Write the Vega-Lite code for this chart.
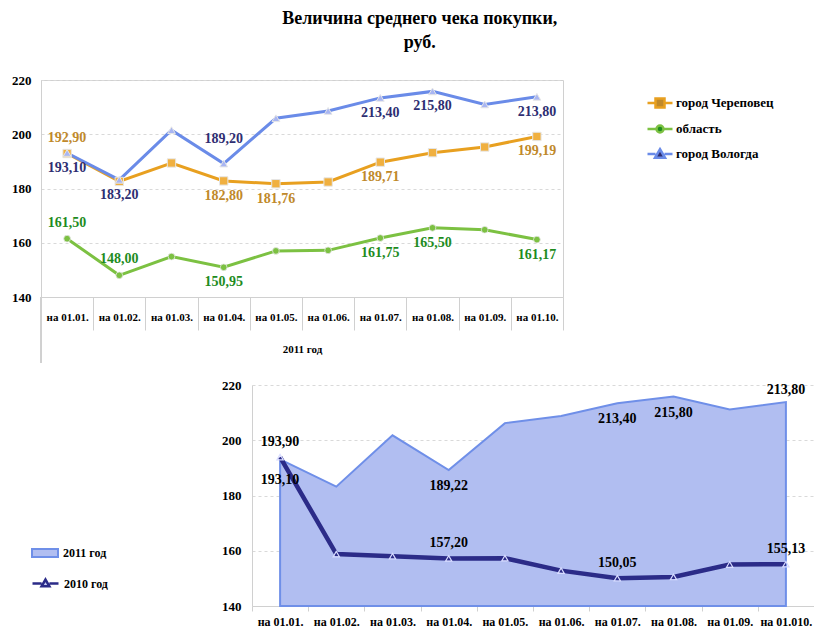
{
  "$schema": "https://vega.github.io/schema/vega-lite/v6.json",
  "background": "white",
  "padding": {"left": 11, "top": 9, "right": 0, "bottom": 0},
  "title": {
    "text": ["Величина среднего чека покупки,", "руб."],
    "font": "Liberation Serif",
    "fontSize": 18,
    "fontWeight": "bold",
    "lineHeight": 24,
    "color": "#000",
    "anchor": "middle",
    "offset": 22,
    "dx": 7
  },
  "datasets": {
    "top": [
      {"m": "на 01.01.", "s": "город Череповец", "v": 192.90},
      {"m": "на 01.02.", "s": "город Череповец", "v": 182.6},
      {"m": "на 01.03.", "s": "город Череповец", "v": 189.4},
      {"m": "на 01.04.", "s": "город Череповец", "v": 182.80},
      {"m": "на 01.05.", "s": "город Череповец", "v": 181.76},
      {"m": "на 01.06.", "s": "город Череповец", "v": 182.4},
      {"m": "на 01.07.", "s": "город Череповец", "v": 189.71},
      {"m": "на 01.08.", "s": "город Череповец", "v": 193.2},
      {"m": "на 01.09.", "s": "город Череповец", "v": 195.3},
      {"m": "на 01.10.", "s": "город Череповец", "v": 199.19},
      {"m": "на 01.01.", "s": "область", "v": 161.50},
      {"m": "на 01.02.", "s": "область", "v": 148.00},
      {"m": "на 01.03.", "s": "область", "v": 154.9},
      {"m": "на 01.04.", "s": "область", "v": 150.95},
      {"m": "на 01.05.", "s": "область", "v": 157.0},
      {"m": "на 01.06.", "s": "область", "v": 157.2},
      {"m": "на 01.07.", "s": "область", "v": 161.75},
      {"m": "на 01.08.", "s": "область", "v": 165.50},
      {"m": "на 01.09.", "s": "область", "v": 164.8},
      {"m": "на 01.10.", "s": "область", "v": 161.17},
      {"m": "на 01.01.", "s": "город Вологда", "v": 193.10},
      {"m": "на 01.02.", "s": "город Вологда", "v": 183.20},
      {"m": "на 01.03.", "s": "город Вологда", "v": 201.5},
      {"m": "на 01.04.", "s": "город Вологда", "v": 189.20},
      {"m": "на 01.05.", "s": "город Вологда", "v": 205.9},
      {"m": "на 01.06.", "s": "город Вологда", "v": 208.6},
      {"m": "на 01.07.", "s": "город Вологда", "v": 213.40},
      {"m": "на 01.08.", "s": "город Вологда", "v": 215.80},
      {"m": "на 01.09.", "s": "город Вологда", "v": 211.0},
      {"m": "на 01.10.", "s": "город Вологда", "v": 213.80}
    ],
    "bottom": [
      {"m": "на 01.01.", "s": "2011 год", "v": 193.10},
      {"m": "на 01.02.", "s": "2011 год", "v": 183.20},
      {"m": "на 01.03.", "s": "2011 год", "v": 201.8},
      {"m": "на 01.04.", "s": "2011 год", "v": 189.22},
      {"m": "на 01.05.", "s": "2011 год", "v": 206.2},
      {"m": "на 01.06.", "s": "2011 год", "v": 208.8},
      {"m": "на 01.07.", "s": "2011 год", "v": 213.40},
      {"m": "на 01.08.", "s": "2011 год", "v": 215.80},
      {"m": "на 01.09.", "s": "2011 год", "v": 211.1},
      {"m": "на 01.010.", "s": "2011 год", "v": 213.80},
      {"m": "на 01.01.", "s": "2010 год", "v": 193.90},
      {"m": "на 01.02.", "s": "2010 год", "v": 158.8},
      {"m": "на 01.03.", "s": "2010 год", "v": 158.0},
      {"m": "на 01.04.", "s": "2010 год", "v": 157.20},
      {"m": "на 01.05.", "s": "2010 год", "v": 157.3},
      {"m": "на 01.06.", "s": "2010 год", "v": 152.8},
      {"m": "на 01.07.", "s": "2010 год", "v": 150.05},
      {"m": "на 01.08.", "s": "2010 год", "v": 150.5},
      {"m": "на 01.09.", "s": "2010 год", "v": 155.0},
      {"m": "на 01.010.", "s": "2010 год", "v": 155.13}
    ]
  },
  "spacing": 15,
  "resolve": {
    "scale": {"color": "independent", "stroke": "independent", "fill": "independent"},
    "legend": {"color": "independent", "stroke": "independent", "fill": "independent"}
  },
  "vconcat": [
    {
      "width": 522,
      "height": 217,
      "data": {"name": "top"},
      "encoding": {
        "x": {
          "field": "m", "type": "nominal", "sort": null,
          "scale": {"type": "band", "paddingInner": 0, "paddingOuter": 0},
          "axis": {"title": "2011 год", "titleFontSize": 11, "titlePadding": 13, "labelAngle": 0, "labelFontSize": 11, "labelPadding": -19, "tickSize": 33, "tickBand": "extent", "grid": false}
        },
        "y": {
          "field": "v", "type": "quantitative",
          "scale": {"domain": [140, 220], "nice": false, "zero": false},
          "axis": {"title": null, "values": [140, 160, 180, 200, 220], "labelFontSize": 13, "labelPadding": 10, "ticks": false, "grid": true}
        }
      },
      "layer": [
        {
          "mark": {"type": "rule", "color": "#d0d0d0", "clip": false},
          "encoding": {
            "x": {"datum": "на 01.01.", "type": "nominal", "bandPosition": 0},
            "y": {"datum": 140},
            "y2": {"datum": 115.7}
          }
        },
        {
          "mark": {"type": "line", "strokeWidth": 3},
          "encoding": {
            "stroke": {
              "field": "s", "type": "nominal",
              "scale": {"domain": ["город Череповец", "область", "город Вологда"], "range": ["#E8A020", "#7CC142", "#6A8BE8"]},
              "legend": {
                "title": null, "orient": "none", "legendX": 605, "legendY": 9, "padding": 0,
                "symbolSize": 625, "symbolStrokeWidth": 2.5, "labelFontSize": 13, "labelOffset": 2, "rowPadding": 2,
                "encode": {
                  "symbols": {
                    "update": {
                      "shape": {"signal": "datum.value === 'город Череповец' ? 'M-1,0H-0.36M0.36,0H1M-0.36,-0.36H0.36V0.36H-0.36Z' : datum.value === 'область' ? 'M-1,0H-0.28M0.28,0H1M0.28,0A0.28,0.28 0 1,1 -0.28,0A0.28,0.28 0 1,1 0.28,0Z' : 'M-1,0H-0.36M0.36,0H1M0,-0.38L0.4,0.3H-0.4Z'"},
                      "fill": {"signal": "datum.value === 'город Череповец' ? '#F0B040' : datum.value === 'область' ? '#7CC142' : '#A9B6F2'"},
                      "opacity": {"value": 1}
                    }
                  }
                }
              }
            }
          }
        },
        {
          "transform": [{"filter": "datum.s === 'город Череповец'"}],
          "mark": {"type": "point", "shape": "square", "filled": true, "size": 70, "fill": "#F0B040", "stroke": "#e6e6e6", "strokeWidth": 1, "opacity": 1}
        },
        {
          "transform": [{"filter": "datum.s === 'область'"}],
          "mark": {"type": "point", "shape": "circle", "filled": true, "size": 45, "fill": "#7CC142", "stroke": "#e6e6e6", "strokeWidth": 0.8, "opacity": 1}
        },
        {
          "transform": [{"filter": "datum.s === 'город Вологда'"}],
          "mark": {"type": "point", "shape": "triangle-up", "filled": true, "size": 60, "fill": "#A9B6F2", "stroke": "#e6e6e6", "strokeWidth": 1, "opacity": 1}
        },
        {
          "transform": [{"filter": "indexof(['город Череповец|на 01.01.', 'область|на 01.01.', 'область|на 01.02.'], datum.s + '|' + datum.m) >= 0"}],
          "mark": {"type": "text", "dy": -16, "fontSize": 14, "fontWeight": "bold", "font": "Liberation Serif"},
          "encoding": {
            "text": {"field": "v", "type": "quantitative", "format": ".2f"},
            "color": {
              "field": "s", "type": "nominal",
              "scale": {"domain": ["город Череповец", "область", "город Вологда"], "range": ["#C0892B", "#1E8C1E", "#2E2E72"]},
              "legend": null
            }
          }
        },
        {
          "transform": [{"filter": "indexof(['город Вологда|на 01.04.'], datum.s + '|' + datum.m) >= 0"}],
          "mark": {"type": "text", "dy": -25, "fontSize": 14, "fontWeight": "bold", "font": "Liberation Serif"},
          "encoding": {
            "text": {"field": "v", "type": "quantitative", "format": ".2f"},
            "color": {"field": "s", "type": "nominal", "legend": null}
          }
        },
        {
          "transform": [{"filter": "indexof(['город Череповец|на 01.04.', 'город Череповец|на 01.05.', 'город Череповец|на 01.07.', 'город Череповец|на 01.10.', 'область|на 01.04.', 'область|на 01.07.', 'область|на 01.08.', 'область|на 01.10.', 'город Вологда|на 01.01.', 'город Вологда|на 01.02.', 'город Вологда|на 01.07.', 'город Вологда|на 01.08.', 'город Вологда|на 01.10.'], datum.s + '|' + datum.m) >= 0"}],
          "mark": {"type": "text", "dy": 15, "fontSize": 14, "fontWeight": "bold", "font": "Liberation Serif"},
          "encoding": {
            "text": {"field": "v", "type": "quantitative", "format": ".2f"},
            "color": {"field": "s", "type": "nominal", "legend": null}
          }
        }
      ]
    },
    {
      "width": 773,
      "height": 221,
      "view": {"stroke": null},
      "data": {"name": "bottom"},
      "encoding": {
        "x": {
          "field": "m", "type": "nominal", "sort": null,
          "scale": {"type": "band", "paddingInner": 0, "paddingOuter": 0, "range": [211, 773]},
          "axis": {"title": null, "labelAngle": 0, "labelFontSize": 12, "labelPadding": 5, "tickSize": 5, "tickBand": "extent", "grid": false}
        },
        "y": {
          "field": "v", "type": "quantitative",
          "scale": {"domain": [140, 220], "nice": false, "zero": false},
          "axis": {"title": null, "values": [140, 160, 180, 200, 220], "labelFontSize": 13, "labelPadding": 11, "ticks": false, "grid": true, "offset": -211}
        }
      },
      "layer": [
        {
          "transform": [{"filter": "datum.s === '2011 год'"}],
          "mark": {"type": "area", "stroke": "#6F8FE8", "strokeWidth": 2, "opacity": 1, "fillOpacity": 1},
          "encoding": {
            "y2": {"datum": 140},
            "fill": {
              "field": "s", "type": "nominal",
              "scale": {"domain": ["2011 год"], "range": ["#B1BEF1"]},
              "legend": {
                "title": null, "orient": "none", "legendX": -10, "legendY": 154, "padding": 0,
                "symbolType": "M-1,-0.3H1V0.3H-1Z", "symbolSize": 676,
                "symbolStrokeColor": "#6F8FE8", "symbolStrokeWidth": 2, "symbolOpacity": 1,
                "labelFontSize": 12, "labelOffset": 4
              }
            }
          }
        },
        {
          "transform": [{"filter": "datum.s === '2010 год'"}],
          "mark": {"type": "line", "strokeWidth": 4.5},
          "encoding": {
            "stroke": {
              "field": "s", "type": "nominal",
              "scale": {"domain": ["2010 год"], "range": ["#2B2B88"]},
              "legend": {
                "title": null, "orient": "none", "legendX": -10, "legendY": 184, "padding": 0,
                "symbolType": "M-1,0H-0.3M0.3,0H1M0,-0.3L0.3,0.22H-0.3Z", "symbolSize": 676,
                "symbolFillColor": "#C8CEF6", "symbolStrokeWidth": 2.5, "symbolOpacity": 1,
                "labelFontSize": 12, "labelOffset": 4
              }
            }
          }
        },
        {
          "transform": [{"filter": "datum.s === '2010 год'"}],
          "mark": {"type": "point", "shape": "triangle-up", "size": 40, "filled": false, "stroke": "#D8DCFF", "strokeWidth": 1.2, "opacity": 1}
        },
        {
          "transform": [{"filter": "indexof(['2011 год|на 01.01.'], datum.s + '|' + datum.m) >= 0"}],
          "mark": {"type": "text", "dy": 21, "fontSize": 14, "fontWeight": "bold", "font": "Liberation Serif", "color": "#000"},
          "encoding": {"text": {"field": "v", "type": "quantitative", "format": ".2f"}}
        },
        {
          "transform": [{"filter": "indexof(['2011 год|на 01.04.', '2011 год|на 01.07.', '2011 год|на 01.08.'], datum.s + '|' + datum.m) >= 0"}],
          "mark": {"type": "text", "dy": 16, "fontSize": 14, "fontWeight": "bold", "font": "Liberation Serif", "color": "#000"},
          "encoding": {"text": {"field": "v", "type": "quantitative", "format": ".2f"}}
        },
        {
          "transform": [{"filter": "indexof(['2011 год|на 01.010.'], datum.s + '|' + datum.m) >= 0"}],
          "mark": {"type": "text", "dy": -12, "fontSize": 14, "fontWeight": "bold", "font": "Liberation Serif", "color": "#000"},
          "encoding": {"text": {"field": "v", "type": "quantitative", "format": ".2f"}}
        },
        {
          "transform": [{"filter": "indexof(['2010 год|на 01.01.', '2010 год|на 01.04.', '2010 год|на 01.07.', '2010 год|на 01.010.'], datum.s + '|' + datum.m) >= 0"}],
          "mark": {"type": "text", "dy": -15, "fontSize": 14, "fontWeight": "bold", "font": "Liberation Serif", "color": "#000"},
          "encoding": {"text": {"field": "v", "type": "quantitative", "format": ".2f"}}
        }
      ]
    }
  ],
  "config": {
    "font": "Liberation Serif",
    "locale": {"number": {"decimal": ",", "thousands": " ", "grouping": [3], "currency": ["", ""]}},
    "view": {"stroke": "#d0d0d0"},
    "axis": {
      "labelFont": "Liberation Serif", "labelFontWeight": "bold", "labelColor": "#000",
      "titleFont": "Liberation Serif", "titleFontWeight": "bold", "titleColor": "#000",
      "domainColor": "#d0d0d0", "tickColor": "#d0d0d0", "gridColor": "#d9d9d9", "gridDash": [3, 3]
    },
    "legend": {"labelFont": "Liberation Serif", "labelFontWeight": "bold", "labelColor": "#000"}
  }
}
